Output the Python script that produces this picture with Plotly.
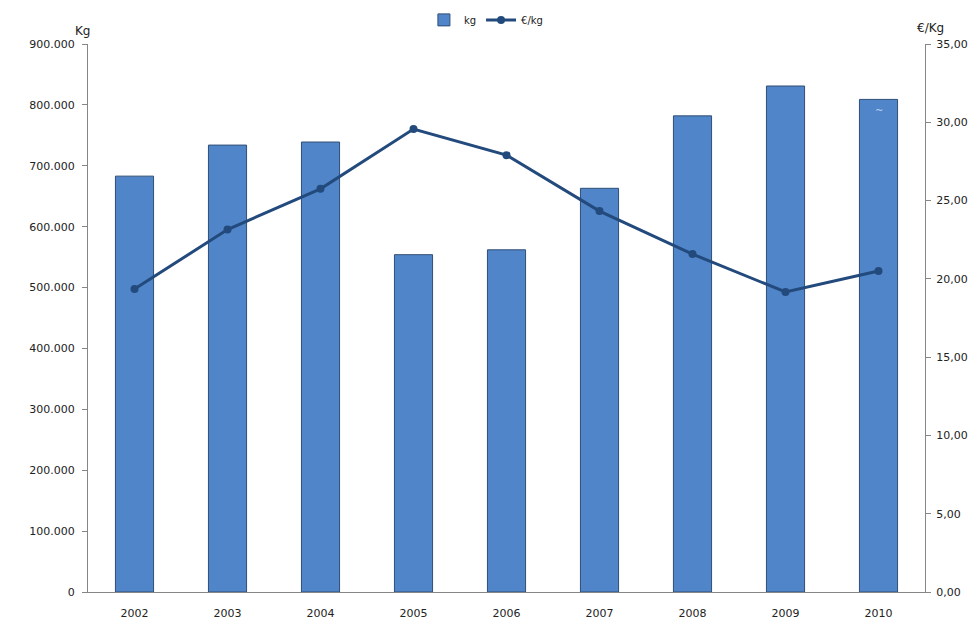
import plotly.graph_objects as go

years = ["2002", "2003", "2004", "2005", "2006", "2007", "2008", "2009", "2010"]
kg = [683000, 734000, 739000, 554000, 562000, 663000, 782000, 831000, 809000]
eur_kg = [19.35, 23.15, 25.75, 29.57, 27.9, 24.33, 21.58, 19.16, 20.5]

font_family = "DejaVu Sans"
txt = "#222222"
axis_col = "#868686"

fig = go.Figure()
fig.add_trace(go.Bar(
    x=years, y=kg, name="kg",
    marker=dict(color="#5185C9", line=dict(color="#2F4E75", width=1)),
    width=0.41,
))
fig.add_trace(go.Scatter(
    x=years, y=eur_kg, name="€/kg", yaxis="y2",
    mode="lines+markers",
    line=dict(color="#234A7C", width=3),
    marker=dict(color="#234A7C", size=8),
))

# page body has an 8px default margin: compensate so the plot sits where the reference's does
fig.update_layout(
    width=969, height=629,
    paper_bgcolor="white", plot_bgcolor="white",
    separators=",.",
    margin=dict(l=80, r=52, t=36, b=45, autoexpand=False),
    font=dict(family=font_family, size=11, color=txt),
    showlegend=True,
    legend=dict(orientation="h", x=0.476, xanchor="center", y=1.044, yanchor="middle",
                font=dict(size=10, color=txt), tracegroupgap=0),
    xaxis=dict(type="category", range=[-0.5, len(years) - 0.5],
               showline=True, linecolor=axis_col, linewidth=1, ticks="",
               tickfont=dict(size=11, color=txt), showgrid=False, zeroline=False,
               ticklabelstandoff=11),
    yaxis=dict(range=[0, 900000], dtick=100000, tickformat=",d",
               showline=True, linecolor=axis_col, linewidth=1,
               ticks="outside", ticklen=5, tickcolor=axis_col, ticklabelstandoff=5,
               showgrid=False, zeroline=False, tickfont=dict(size=11, color=txt)),
    yaxis2=dict(range=[0, 35], dtick=5, tickformat=".2f", overlaying="y", side="right",
                showline=True, linecolor=axis_col, linewidth=1,
                ticks="outside", ticklen=5, tickcolor=axis_col, ticklabelstandoff=3,
                showgrid=False, zeroline=False, tickfont=dict(size=11, color=txt)),
    annotations=[
        dict(text="Kg", xref="paper", yref="paper", x=0, y=1.0, xanchor="right",
             yanchor="bottom", xshift=5, yshift=4, showarrow=False,
             font=dict(size=12, color=txt)),
        dict(text="€/Kg", xref="paper", yref="paper", x=1, y=1.0, xanchor="center",
             yanchor="bottom", xshift=5, yshift=7, showarrow=False,
             font=dict(size=12, color=txt)),
        dict(text="~", x=len(years) - 1, y=790000, xref="x", yref="y", showarrow=False,
             font=dict(size=10, color="#B8D0EE")),
    ],
)

fig.write_html("out.html")
